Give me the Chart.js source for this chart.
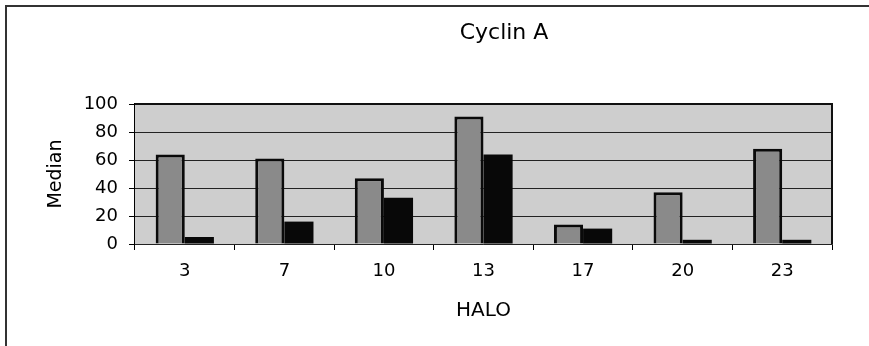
<!DOCTYPE html>
<html>
<head>
<meta charset="utf-8">
<script src="https://cdn.jsdelivr.net/npm/chart.js@4/dist/chart.umd.min.js"></script>
<style>
  html, body { margin: 0; padding: 0; background: #fff; overflow: hidden; }
  #wrap { position: relative; width: 869px; height: 346px; overflow: hidden; }
  #frame {
    position: absolute; left: 5px; top: 5px; width: 880px; height: 360px;
    border-top: 2px solid #333; border-left: 2px solid #333;
  }
  canvas { position: absolute; left: 0; top: 0; }
</style>
</head>
<body>
<div id="wrap">
  <div id="frame"></div>
  <canvas id="chart" width="869" height="346"></canvas>
</div>
<script>
const titleText = 'Cyclin A';
const categories = ['3', '7', '10', '13', '17', '20', '23'];
const greyValues = [64, 61, 47, 91, 14, 37, 68];
const blackValues = [5, 16, 33, 64, 11, 3, 3];
const yTicks = [0, 20, 40, 60, 80, 100];

const FONT = "'DejaVu Sans', sans-serif";

// plot background + box, title placed over the chart like the original
const plotBox = {
  id: 'plotBox',
  beforeDatasetsDraw(chart) {
    const { ctx, chartArea: a } = chart;
    ctx.save();
    ctx.fillStyle = '#cecece';
    ctx.fillRect(a.left, a.top, a.right - a.left, a.bottom - a.top);
    // grid lines go on top of the fill
    const y = chart.scales.y;
    ctx.strokeStyle = '#222';
    ctx.lineWidth = 1;
    for (const t of yTicks) {
      const py = Math.round(y.getPixelForValue(t)) + 0.5;
      ctx.beginPath();
      ctx.moveTo(a.left, py);
      ctx.lineTo(a.right, py);
      ctx.stroke();
    }
    ctx.restore();
  },
  afterDraw(chart) {
    const { ctx, chartArea: a } = chart;
    ctx.save();
    ctx.strokeStyle = '#111';
    ctx.lineWidth = 2;
    ctx.beginPath();
    ctx.moveTo(a.left, a.top);
    ctx.lineTo(a.right, a.top);
    ctx.lineTo(a.right, a.bottom);
    ctx.stroke();
    ctx.fillStyle = '#000';
    ctx.font = '22px ' + FONT;
    ctx.textAlign = 'center';
    ctx.textBaseline = 'middle';
    ctx.fillText(titleText, 504, 33);
    ctx.restore();
  },
};

new Chart(document.getElementById('chart'), {
  type: 'bar',
  data: {
    labels: categories,
    datasets: [
      {
        label: 'grey',
        data: greyValues,
        backgroundColor: '#8a8a8a',
        borderColor: '#0a0a0a',
        borderWidth: 3,
        borderSkipped: 'bottom',
      },
      {
        label: 'black',
        data: blackValues,
        backgroundColor: '#080808',
        borderWidth: 0,
      },
    ],
  },
  options: {
    responsive: false,
    animation: false,
    layout: { padding: { top: 104, right: 37, bottom: 0, left: 0 } },
    datasets: { bar: { categoryPercentage: 0.585, barPercentage: 1 } },
    plugins: {
      legend: { display: false },
      tooltip: { enabled: false },
      title: { display: false },
    },
    scales: {
      x: {
        grid: { offset: true, drawOnChartArea: false, tickLength: 6, color: '#000', lineWidth: 1 },
        border: { display: true, color: '#000', width: 1.5 },
        ticks: { color: '#000', font: { family: FONT, size: 18 }, padding: 11, maxRotation: 0 },
        title: { display: true, text: 'HALO', color: '#000', font: { family: FONT, size: 20 }, padding: { top: 0, bottom: 23 } },
        afterFit(scale) { scale.height = 102; },
      },
      y: {
        min: 0,
        max: 100,
        ticks: { stepSize: 20, color: '#000', font: { family: FONT, size: 18 }, padding: 11 },
        grid: { drawOnChartArea: false, tickLength: 6, color: '#000', lineWidth: 1 },
        border: { display: true, color: '#000', width: 1.5 },
        title: { display: true, text: 'Median', color: '#000', font: { family: FONT, size: 19 }, padding: { top: 45, bottom: 0 } },
        afterFit(scale) { scale.width = 135; },
      },
    },
  },
  plugins: [plotBox],
});
</script>
</body>
</html>
